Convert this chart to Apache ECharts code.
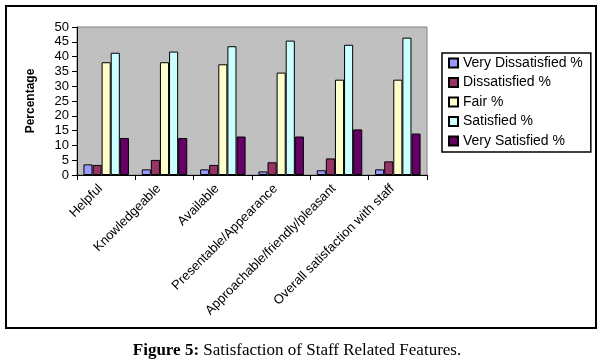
<!DOCTYPE html>
<html>
<head>
<meta charset="utf-8">
<script src="https://cdn.jsdelivr.net/npm/echarts@6/dist/echarts.min.js"></script>
<style>html,body{margin:0;padding:0;background:#fff}#c{width:606px;height:364px}</style>
</head>
<body>
<div id="c"></div>
<script>
var categories = ['Helpful', 'Knowledgeable', 'Available', 'Presentable/Appearance', 'Approachable/friendly/pleasant', 'Overall satisfaction with staff'];
var seriesNames = ['Very Dissatisfied %', 'Dissatisfied %', 'Fair %', 'Satisfied %', 'Very Satisfied %'];
var veryDissatisfied = [3.6, 1.9, 1.9, 1.2, 1.6, 1.9];
var dissatisfied = [3.4, 5.1, 3.4, 4.3, 5.6, 4.6];
var fair = [38.1, 38.1, 37.4, 34.6, 32.2, 32.2];
var satisfied = [41.3, 41.7, 43.5, 45.4, 44.0, 46.4];
var verySatisfied = [12.5, 12.5, 13.0, 13.0, 15.4, 14.0];
var yTicks = [0, 5, 10, 15, 20, 25, 30, 35, 40, 45, 50];

var colors = ['#9999FF', '#993366', '#FFFFCC', '#CCFFFF', '#660066'];
var values = [veryDissatisfied, dissatisfied, fair, satisfied, verySatisfied];
var FONT = '"Liberation Sans", Arial, sans-serif';
var SERIF = '"Liberation Serif", "Times New Roman", serif';

var chart = echarts.init(document.getElementById('c'), null, {renderer: 'canvas'});
chart.setOption({
  animation: false,
  backgroundColor: '#ffffff',
  textStyle: {fontFamily: FONT, color: '#000'},
  grid: {
    left: 77, top: 27, width: 350, height: 148,
    show: true, backgroundColor: '#C0C0C0', borderColor: '#808080', borderWidth: 1
  },
  legend: {
    orient: 'vertical',
    left: 442, top: 53,
    padding: [3, 8, 4, 6],
    itemWidth: 9, itemHeight: 9, itemGap: 5.5,
    borderColor: '#000', borderWidth: 1.5,
    backgroundColor: '#fff',
    icon: 'rect',
    textStyle: {fontFamily: FONT, fontSize: 14, color: '#000', lineHeight: 13},
    data: seriesNames
  },
  xAxis: {
    type: 'category',
    data: categories,
    axisLine: {lineStyle: {color: '#000', width: 1}},
    axisTick: {show: true, length: 5, lineStyle: {color: '#000'}},
    axisLabel: {rotate: 45, fontSize: 13, color: '#000', fontFamily: FONT, margin: 6, interval: 0, padding: [0, 8, 0, 0]}
  },
  yAxis: {
    type: 'value',
    min: yTicks[0], max: yTicks[yTicks.length - 1], interval: 5,
    name: 'Percentage',
    nameLocation: 'middle',
    nameRotate: 90,
    nameGap: 40,
    nameTextStyle: {fontFamily: FONT, fontSize: 12, fontWeight: 'bold', color: '#000'},
    axisLine: {show: true, lineStyle: {color: '#000', width: 1}},
    axisTick: {show: true, length: 5, lineStyle: {color: '#000'}},
    splitLine: {show: false},
    axisLabel: {fontSize: 13, color: '#000', fontFamily: FONT, margin: 8}
  },
  series: seriesNames.map(function (n, i) {
    return {
      name: n,
      type: 'bar',
      data: values[i],
      barGap: '0%',
      barCategoryGap: '22%',
      itemStyle: {color: colors[i], borderColor: '#000', borderWidth: 1}
    };
  }),
  graphic: [
    {
      type: 'rect',
      shape: {x: 6, y: 6, width: 590, height: 322},
      style: {fill: 'none', stroke: '#000', lineWidth: 2},
      silent: true
    },
    {
      type: 'text',
      x: 297, y: 351,
      style: {
        text: '{b|Figure 5:} Satisfaction of Staff Related Features.',
        textAlign: 'center', textVerticalAlign: 'middle',
        fontFamily: SERIF,
        fontSize: 17, fill: '#000',
        rich: {b: {fontWeight: 'bold', fontFamily: SERIF, fontSize: 17}}
      }
    }
  ]
});
</script>
</body>
</html>
